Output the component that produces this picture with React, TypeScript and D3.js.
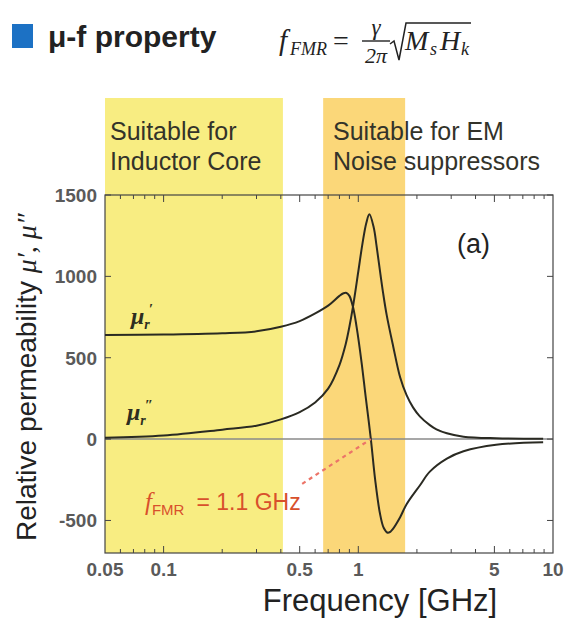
import * as d3 from "d3";
import { useRef, useEffect } from "react";

// frequency [GHz] and the two permeability curves
const freqReal = [0.05, 0.1, 0.2, 0.3, 0.4, 0.5, 0.6, 0.7, 0.8, 0.84, 0.87, 0.9, 0.94, 0.98, 1.04, 1.09, 1.16, 1.22, 1.29, 1.35, 1.415, 1.46, 1.5, 1.64, 1.77, 2.07, 2.33, 2.85, 3.47, 5.1, 8.9];
const muReal = [640, 642, 650, 662, 690, 725, 772, 820, 880, 896, 898, 880, 810, 690, 469, 264, 0, -248, -453, -545, -576, -570, -555, -480, -400, -285, -200, -120, -75, -35, -20];

const freqImag = [0.05, 0.1, 0.2, 0.3, 0.4, 0.5, 0.6, 0.7, 0.8, 0.86, 0.9, 0.94, 1.0, 1.05, 1.1, 1.14, 1.2, 1.24, 1.3, 1.34, 1.4, 1.51, 1.64, 1.77, 1.91, 2.07, 2.33, 2.52, 2.85, 3.47, 5.1, 8.9];
const muImag = [8, 22, 58, 82, 121, 166, 225, 310, 455, 580, 690, 817, 1030, 1200, 1330, 1381, 1300, 1190, 1010, 900, 760, 571, 380, 270, 195, 140, 86, 60, 36, 15, 5, 2];

const yTicks = [1500, 1000, 500, 0, -500];
const xTickLabels = [0.05, 0.1, 0.5, 1, 5, 10];
const xMajor = [0.1, 0.5, 1, 5];
const xMinor = [0.06, 0.07, 0.08, 0.09, 0.2, 0.3, 0.4, 0.6, 0.7, 0.8, 0.9, 2, 3, 4, 6, 7, 8, 9];

// frequency bands [GHz]
const inductorBand = [0.05, 0.41];
const noiseBand = [0.66, 1.74];
// fFMR pointer: from label to crossing
const fmrPointer = [
  { f: 0.515, v: -275 },
  { f: 1.16, v: 0 },
];

const sans = "'Liberation Sans', Arial, sans-serif";
const serif = "'Liberation Serif', 'Times New Roman', serif";

const App = () => {
  const svgRef = useRef(null);
  const width = 565;
  const height = 620;
  const plot = { left: 105, right: 553, top: 195, bottom: 553 };

  useEffect(() => {
    const x = d3.scaleLog().domain([0.05, 10]).range([plot.left, plot.right]);
    const y = d3.scaleLinear().domain([-700, 1500]).range([plot.bottom, plot.top]);

    const svgEl = d3.select(svgRef.current);
    svgEl.selectAll("*").remove();
    svgEl.append("rect").attr("width", width).attr("height", height).attr("fill", "#fff");

    // bands
    const bandTop = 98;
    svgEl
      .append("rect")
      .attr("x", x(inductorBand[0]))
      .attr("y", bandTop)
      .attr("width", x(inductorBand[1]) - x(inductorBand[0]))
      .attr("height", plot.bottom - bandTop)
      .attr("fill", "#f8ed82");
    svgEl
      .append("rect")
      .attr("x", x(noiseBand[0]))
      .attr("y", bandTop)
      .attr("width", x(noiseBand[1]) - x(noiseBand[0]))
      .attr("height", plot.bottom - bandTop)
      .attr("fill", "#fbd779");

    // band labels
    const bandText = (lines, x0) => {
      const t = svgEl
        .append("text")
        .attr("font-family", sans)
        .attr("font-size", 25)
        .attr("fill", "#33332a");
      lines.forEach((s, i) => {
        t.append("tspan").attr("x", x0).attr("y", 140 + i * 30).text(s);
      });
    };
    bandText(["Suitable for", "Inductor Core"], 110);
    bandText(["Suitable for EM", "Noise suppressors"], 333);

    // zero line
    svgEl
      .append("line")
      .attr("x1", plot.left)
      .attr("x2", plot.right)
      .attr("y1", y(0))
      .attr("y2", y(0))
      .attr("stroke", "#8a8a8a")
      .attr("stroke-width", 1.5);

    // frame
    svgEl
      .append("rect")
      .attr("x", plot.left)
      .attr("y", plot.top)
      .attr("width", plot.right - plot.left)
      .attr("height", plot.bottom - plot.top)
      .attr("fill", "none")
      .attr("stroke", "#444")
      .attr("stroke-width", 1.2);

    // ticks, inward on all sides
    const tickG = svgEl.append("g").attr("stroke", "#444").attr("stroke-width", 1);
    const xTick = (f, len) => {
      tickG.append("line").attr("x1", x(f)).attr("x2", x(f)).attr("y1", plot.bottom).attr("y2", plot.bottom - len);
      tickG.append("line").attr("x1", x(f)).attr("x2", x(f)).attr("y1", plot.top).attr("y2", plot.top + len);
    };
    xMajor.forEach((f) => xTick(f, 7));
    xMinor.forEach((f) => xTick(f, 4));
    yTicks.forEach((v) => {
      tickG.append("line").attr("x1", plot.left).attr("x2", plot.left + 6).attr("y1", y(v)).attr("y2", y(v));
      tickG.append("line").attr("x1", plot.right).attr("x2", plot.right - 6).attr("y1", y(v)).attr("y2", y(v));
    });

    // tick labels
    svgEl
      .append("g")
      .selectAll("text")
      .data(yTicks)
      .enter()
      .append("text")
      .attr("x", plot.left - 8)
      .attr("y", (d) => y(d) + 7)
      .attr("text-anchor", "end")
      .attr("font-family", sans)
      .attr("font-weight", "bold")
      .attr("font-size", 19)
      .attr("fill", "#5a5a5a")
      .text((d) => d);
    svgEl
      .append("g")
      .selectAll("text")
      .data(xTickLabels)
      .enter()
      .append("text")
      .attr("x", (d) => x(d))
      .attr("y", plot.bottom + 23)
      .attr("text-anchor", "middle")
      .attr("font-family", sans)
      .attr("font-weight", "bold")
      .attr("font-size", 19)
      .attr("fill", "#5a5a5a")
      .text((d) => d);

    // curves
    const line = d3
      .line()
      .x((d) => x(d[0]))
      .y((d) => y(d[1]))
      .curve(d3.curveCatmullRom.alpha(0.5));
    svgEl
      .append("path")
      .attr("d", line(freqReal.map((f, i) => [f, muReal[i]])))
      .attr("fill", "none")
      .attr("stroke", "#2a2a22")
      .attr("stroke-width", 2);
    svgEl
      .append("path")
      .attr("d", line(freqImag.map((f, i) => [f, muImag[i]])))
      .attr("fill", "none")
      .attr("stroke", "#2a2a22")
      .attr("stroke-width", 2);

    // fFMR pointer
    svgEl
      .append("line")
      .attr("x1", x(fmrPointer[0].f))
      .attr("y1", y(fmrPointer[0].v))
      .attr("x2", x(fmrPointer[1].f))
      .attr("y2", y(fmrPointer[1].v))
      .attr("stroke", "#ec7468")
      .attr("stroke-width", 2.2)
      .attr("stroke-dasharray", "4,4");
    const fmr = svgEl
      .append("text")
      .attr("x", 145)
      .attr("y", 510)
      .attr("font-family", sans)
      .attr("font-size", 23)
      .attr("fill", "#d8502c");
    fmr.append("tspan").attr("font-family", serif).attr("font-style", "italic").attr("font-size", 25).text("f");
    fmr.append("tspan").attr("dy", 5).attr("font-size", 15).text("FMR");
    fmr.append("tspan").attr("dy", -5).attr("dx", 12).text("= 1.1 GHz");

    // curve labels
    const muLabel = (x0, y0, prime) => {
      const t = svgEl
        .append("text")
        .attr("x", x0)
        .attr("y", y0)
        .attr("font-family", serif)
        .attr("font-style", "italic")
        .attr("font-weight", "bold")
        .attr("font-size", 24)
        .attr("fill", "#2e2e20");
      t.append("tspan").text("μ");
      t.append("tspan").attr("dy", 5).attr("font-size", 14).text("r");
      t.append("tspan").attr("dx", -1).attr("dy", -15).attr("font-size", 15).text(prime);
    };
    muLabel(131, 324, "′");
    muLabel(127, 420, "″");

    // (a)
    svgEl
      .append("text")
      .attr("x", 457)
      .attr("y", 253)
      .attr("font-family", sans)
      .attr("font-size", 27)
      .attr("fill", "#222")
      .text("(a)");

    // axis titles
    const yl = svgEl
      .append("text")
      .attr("transform", "translate(36,541) rotate(-90)")
      .attr("font-family", sans)
      .attr("font-size", 28)
      .attr("fill", "#222");
    yl.append("tspan").text("Relative permeability ");
    yl.append("tspan").attr("font-family", serif).attr("font-style", "italic").text("μ′, μ″");

    svgEl
      .append("text")
      .attr("x", 380)
      .attr("y", 611)
      .attr("text-anchor", "middle")
      .attr("font-family", sans)
      .attr("font-size", 31)
      .attr("fill", "#222")
      .text("Frequency [GHz]");

    // header
    svgEl.append("rect").attr("x", 12).attr("y", 24).attr("width", 21).attr("height", 24).attr("fill", "#1c71c4");
    svgEl
      .append("text")
      .attr("x", 48)
      .attr("y", 47)
      .attr("font-family", sans)
      .attr("font-weight", "bold")
      .attr("font-size", 30)
      .attr("fill", "#222")
      .text("μ-f property");

    // formula f_FMR = γ/2π √(Ms Hk)
    const fm = svgEl.append("g").attr("font-family", serif).attr("font-style", "italic").attr("fill", "#222");
    fm.append("text").attr("x", 279).attr("y", 50).attr("font-size", 29).text("f");
    fm.append("text").attr("x", 290).attr("y", 55).attr("font-size", 18).text("FMR");
    fm.append("text").attr("x", 333).attr("y", 50).attr("font-size", 28).attr("font-style", "normal").text("=");
    fm.append("text").attr("x", 376).attr("y", 35).attr("font-size", 23).attr("text-anchor", "middle").text("γ");
    fm.append("line").attr("x1", 362).attr("x2", 390).attr("y1", 41).attr("y2", 41).attr("stroke", "#222").attr("stroke-width", 1.4);
    fm.append("text").attr("x", 376).attr("y", 63).attr("font-size", 22).attr("text-anchor", "middle").text("2π");
    fm.append("path")
      .attr("d", "M390,44 L394,41 L399,60 L406,23 L471,23")
      .attr("fill", "none")
      .attr("stroke", "#222")
      .attr("stroke-width", 1.5);
    fm.append("text").attr("x", 405).attr("y", 50).attr("font-size", 28).text("M");
    fm.append("text").attr("x", 430).attr("y", 55).attr("font-size", 18).text("s");
    fm.append("text").attr("x", 440).attr("y", 50).attr("font-size", 28).text("H");
    fm.append("text").attr("x", 461).attr("y", 55).attr("font-size", 18).text("k");
  }, []);

  return <svg ref={svgRef} width={width} height={height} style={{ position: "absolute", left: 0, top: 0 }} />;
};

export default App;
